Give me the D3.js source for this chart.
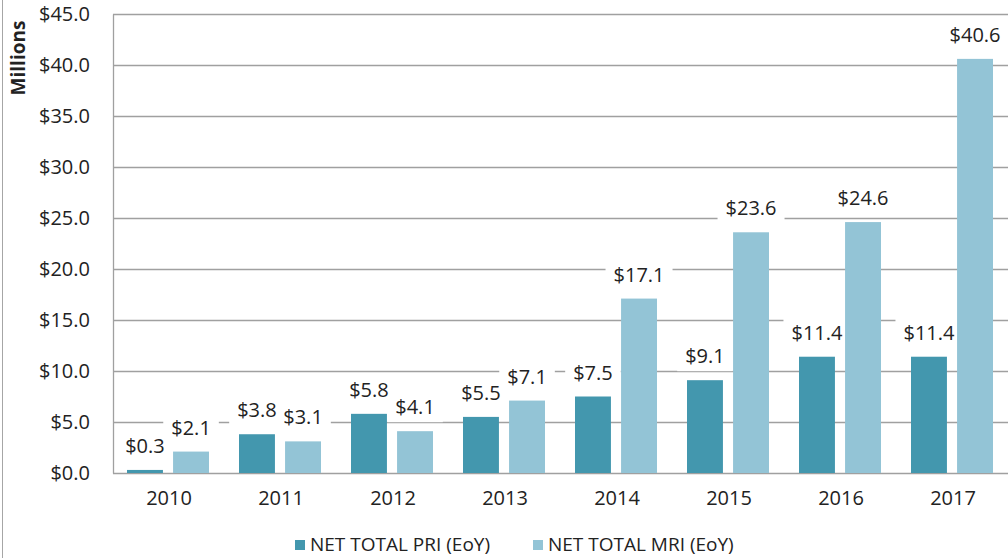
<!doctype html>
<html lang="en">
  <head>
    <meta charset="utf-8">
    <title>Net total PRI / MRI</title>
    <style>
      body { margin: 0; background: #fff; }
      text { font-family: "Open Sans", sans-serif; fill: #222; }
    </style>
  </head>
  <body>
    <script src="https://cdn.jsdelivr.net/npm/d3@7"></script>
    <script>
      var years = ["2010", "2011", "2012", "2013", "2014", "2015", "2016", "2017"];
      var pri = [0.3, 3.8, 5.8, 5.5, 7.5, 9.1, 11.4, 11.4];
      var mri = [2.1, 3.1, 4.1, 7.1, 17.1, 23.6, 24.6, 40.6];
      var seriesNames = ["NET TOTAL PRI (EoY)", "NET TOTAL MRI (EoY)"];
      var seriesColors = ["#4397ae", "#93c4d6"];
      var yTicks = [0, 5, 10, 15, 20, 25, 30, 35, 40, 45];

      var margin = {top: 14, right: -1, bottom: 85, left: 113},
          width = 1008 - margin.left - margin.right,
          height = 558 - margin.top - margin.bottom;

      var svg = d3.select("body")
        .append("svg")
        .attr("width", 1008)
        .attr("height", 558);

      // chart frame on the left
      svg.append("line")
        .attr("x1", 2.5).attr("x2", 2.5)
        .attr("y1", 0).attr("y2", 558)
        .attr("stroke", "#a6a6a6");

      var chart = svg.append("g")
        .attr("transform", "translate(" + margin.left + "," + margin.top + ")");

      var y = d3.scaleLinear()
        .domain([0, 45])
        .range([height, 0]);

      var x = d3.scaleBand()
        .domain(years)
        .range([0, width]);

      var x1 = d3.scaleBand()
        .domain([0, 1])
        .range([14, 96])
        .paddingInner(0.22);

      // gridlines
      chart.append("g")
        .selectAll("line")
        .data(yTicks)
        .enter()
        .append("line")
        .attr("x1", 0)
        .attr("x2", width)
        .attr("y1", function(d){ return Math.round(y(d)) + 0.5; })
        .attr("y2", function(d){ return Math.round(y(d)) + 0.5; })
        .attr("stroke", "#a0a0a0")
        .attr("stroke-width", 1.3);

      var rows = [];
      years.forEach(function(yr, i){
        rows.push({year: yr, s: 0, v: pri[i]});
        rows.push({year: yr, s: 1, v: mri[i]});
      });

      function labelPos(d){
        return "translate(" + (x(d.year) + x1(d.s) + x1.bandwidth() / 2) + "," + (y(d.v) - 17) + ")";
      }
      function fmt(d){ return "$" + d.v.toFixed(1); }

      // white backs behind labels (they cut the gridlines, bars stay on top)
      var backLayer = chart.append("g");
      var barLayer = chart.append("g");
      var textLayer = chart.append("g");

      barLayer.selectAll(".bar")
        .data(rows)
        .enter()
        .append("rect")
        .attr("class", "bar")
        .attr("x", function(d){ return x(d.year) + x1(d.s); })
        .attr("y", function(d){ return y(d.v); })
        .attr("width", x1.bandwidth())
        .attr("height", function(d){ return height - y(d.v); })
        .attr("fill", function(d){ return seriesColors[d.s]; });

      var texts = textLayer.selectAll("text")
        .data(rows)
        .enter()
        .append("text")
        .attr("transform", labelPos)
        .attr("text-anchor", "middle")
        .style("font-size", "20px")
        .text(fmt);

      texts.each(function(d){
        var b = this.getBBox();
        backLayer.append("rect")
          .attr("transform", labelPos(d))
          .attr("x", b.x - 8).attr("y", b.y)
          .attr("width", b.width + 16).attr("height", b.height + 2)
          .attr("fill", "#fff");
      });

      // axes
      var yAxis = chart.append("g")
        .call(d3.axisLeft(y).tickValues(yTicks).tickSize(0).tickPadding(23)
          .tickFormat(function(d){ return "$" + d.toFixed(1); }));
      yAxis.select(".domain").attr("stroke", "#a0a0a0").attr("stroke-width", 1.3);
      yAxis.selectAll("text").style("font-size", "20px").attr("fill", "#222");

      var xAxis = chart.append("g")
        .attr("transform", "translate(0," + height + ")")
        .call(d3.axisBottom(x).tickSize(0).tickPadding(18));
      xAxis.select(".domain").remove();
      xAxis.selectAll("text").style("font-size", "20px").attr("fill", "#222");

      svg.append("text")
        .attr("transform", "translate(25,58) rotate(-90)")
        .attr("text-anchor", "middle")
        .style("font-size", "19px")
        .style("font-weight", "bold")
        .attr("fill", "#000")
        .text("Millions");

      // legend
      var legend = svg.append("g")
        .attr("transform", "translate(295,540)");
      var items = legend.selectAll("g")
        .data(seriesNames)
        .enter()
        .append("g")
        .attr("transform", function(d, i){ return "translate(" + (i * 238) + ",0)"; });
      items.append("rect")
        .attr("width", 10).attr("height", 10)
        .attr("fill", function(d, i){ return seriesColors[i]; });
      items.append("text")
        .attr("x", 15).attr("y", 11)
        .style("font-size", "19px")
        .text(function(d){ return d; });
    </script>
  </body>
</html>
